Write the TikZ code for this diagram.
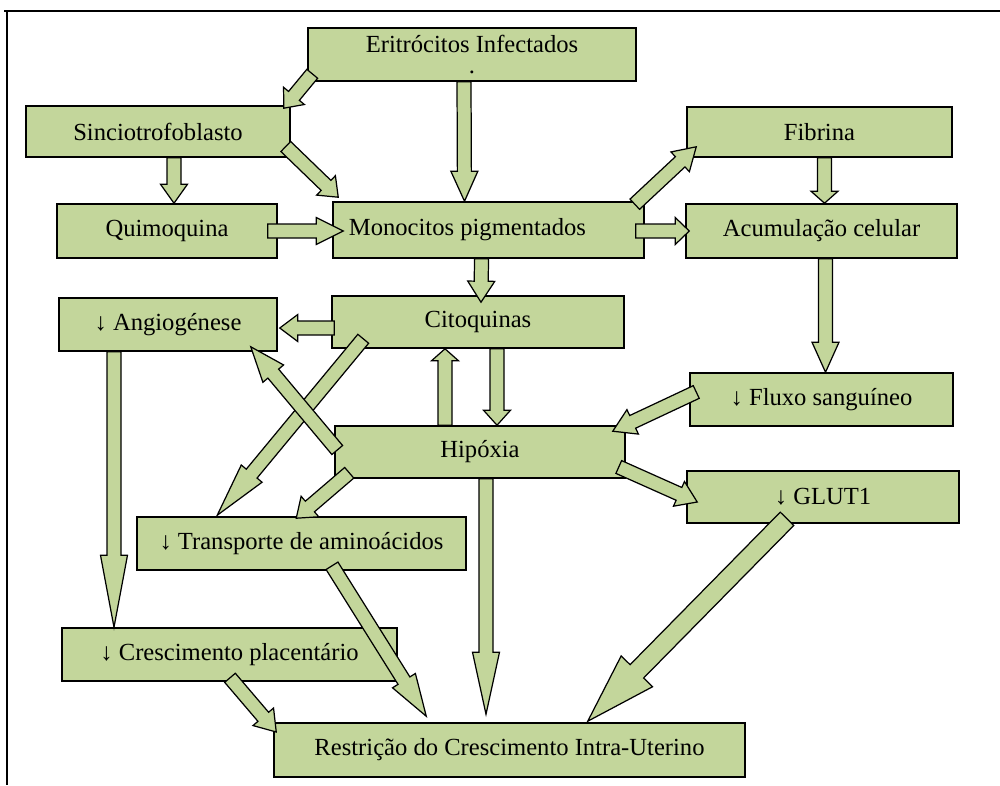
\documentclass[tikz,border=0pt]{standalone}
\usepackage{fontspec}
\setmainfont{Liberation Serif}
\usetikzlibrary{calc}
\definecolor{boxgreen}{RGB}{195,214,155}
\newcommand{\fashaft}{0.14cm}
\newcommand{\fahead}{0.27cm}
\newcommand{\fatarrow}[3][26]{%
  \coordinate (fa-s) at #2;
  \coordinate (fa-e) at #3;
  \coordinate (fa-h) at ($(fa-e)!#1*0.02cm!(fa-s)$);
  \draw[fatarr] ($(fa-s)!\fashaft!90:(fa-e)$) -- ($(fa-h)!\fashaft!90:(fa-e)$)
    -- ($(fa-h)!\fahead!90:(fa-e)$) -- (fa-e) -- ($(fa-h)!\fahead!-90:(fa-e)$)
    -- ($(fa-h)!\fashaft!-90:(fa-e)$) -- ($(fa-s)!\fashaft!-90:(fa-e)$) -- cycle;
}
\begin{document}
\begin{tikzpicture}[x=0.02cm, y=-0.02cm, font=\fontsize{14}{16}\selectfont,
      stepbox/.style={draw, line width=0.9pt, fill=boxgreen, inner sep=0pt, minimum height=1.06cm},
      fatarr/.style={draw, line width=0.7pt, fill=boxgreen, line join=miter}]
    \useasboundingbox (0,0) rectangle (1000,785);
    \draw[line width=0.8pt] (4,11) -- (1000,11);
    \draw[line width=0.8pt] (7,11) -- (7,785);
    \node[stepbox, minimum width=6.56cm, align=center] (erit) at (472,54.5) {Eritrócitos Infectados\\[-4pt].};
    \node[stepbox, minimum width=5.28cm, minimum height=1.02cm] (sinc) at (158,131.5) {Sinciotrofoblasto};
    \node[stepbox, minimum width=5.30cm, minimum height=1.00cm] (fib) at (819.5,132) {Fibrina};
    \node[stepbox, minimum width=4.40cm, minimum height=1.08cm] (quim) at (167,231) {Quimoquina};
    \node[stepbox, minimum width=6.22cm, minimum height=1.12cm] (mono) at (488.5,230) {Monocitos pigmentados\hspace*{0.84cm}};
    \node[stepbox, minimum width=5.42cm, minimum height=1.08cm] (acum) at (821.5,231) {Acumulação celular};
    \node[stepbox, minimum width=4.36cm] (angio) at (168,324.5) {↓ Angiogénese};
    \node[stepbox, minimum width=5.84cm, minimum height=1.04cm] (cito) at (478,322) {Citoquinas};
    \node[stepbox, minimum width=5.26cm] (fluxo) at (821.5,399.5) {↓ Fluxo sanguíneo};
    \node[stepbox, minimum width=5.80cm, minimum height=1.04cm] (hipox) at (480,452) {Hipóxia};
    \node[stepbox, minimum width=5.44cm, minimum height=1.04cm] (glut) at (823,497) {↓ GLUT1};
    \node[stepbox, minimum width=6.58cm] (transp) at (301.5,543.5) {↓ Transporte de aminoácidos};
    \node[stepbox, minimum width=6.70cm] (cresc) at (229.5,654.5) {↓ Crescimento placentário};
    \node[stepbox, minimum width=9.42cm, minimum height=1.08cm] (restr) at (509.5,750) {Restrição do Crescimento Intra-Uterino};
    \fatarrow[16]{([shift={(5,-8)}]erit.south west)}{([shift={(-7,3)}]sinc.north east)}
    \fatarrow[17]{([shift={(-5,15)}]sinc.east)}{([shift={(6,-4)}]mono.north west)}
    \fatarrow[30]{([shift={(-8,0)}]erit.south)}{([shift={(-24,0)}]mono.north)}
    \fatarrow[19]{([shift={(16,0)}]sinc.south)}{([shift={(7,0)}]quim.north)}
    \fatarrow[27]{([shift={(-10,0)}]quim.east)}{([shift={(11,1)}]mono.west)}
    \fatarrow[22]{([shift={(-10,3)}]mono.north east)}{([shift={(10,-11)}]fib.south west)}
    \fatarrow[14]{([shift={(-9,1)}]mono.east)}{([shift={(4,0)}]acum.west)}
    \fatarrow[12]{([shift={(5,0)}]fib.south)}{([shift={(3,0)}]acum.north)}
    \fatarrow[21]{([shift={(-7,0)}]mono.south)}{([shift={(3,7)}]cito.north)}
    \fatarrow[30]{([shift={(4,0)}]acum.south)}{([shift={(4,0)}]fluxo.north)}
    \fatarrow[18]{([shift={(3,6)}]cito.west)}{([shift={(2,3.5)}]angio.east)}
    \fatarrow[54]{([shift={(32,-10)}]cito.south west)}{([shift={(81,-1)}]transp.north west)}
    \fatarrow[35]{([shift={(3,-2)}]hipox.west)}{([shift={(-27,-5)}]angio.south east)}
    \fatarrow[12]{([shift={(-35,0)}]hipox.north)}{([shift={(-33,0)}]cito.south)}
    \fatarrow[15]{([shift={(19,0)}]cito.south)}{([shift={(17,0)}]hipox.north)}
    \fatarrow[22]{([shift={(7,-7.5)}]fluxo.west)}{([shift={(-13,6)}]hipox.north east)}
    \fatarrow[20]{([shift={(-7,15)}]hipox.east)}{([shift={(11,5)}]glut.west)}
    \fatarrow[18]{([shift={(15,-6)}]hipox.south west)}{([shift={(160,2)}]transp.north west)}
    \fatarrow[72]{([shift={(-54,0)}]angio.south)}{([shift={(-115.5,0)}]cresc.north)}
    \fatarrow[62]{([shift={(6,0)}]hipox.south)}{([shift={(-23.5,-8)}]restr.north)}
    \fatarrow[42]{([shift={(30.5,-5)}]transp.south)}{([shift={(153,-6)}]restr.north west)}
    \fatarrow[20]{([shift={(0.5,-4)}]cresc.south)}{([shift={(3,-18)}]restr.west)}
    \begin{scope}
      \renewcommand{\fashaft}{0.19cm}
      \renewcommand{\fahead}{0.44cm}
      \fatarrow[70]{([shift={(-36,-5)}]glut.south)}{([shift={(-158,-1)}]restr.north east)}
    \end{scope}
  \end{tikzpicture}
\end{document}
